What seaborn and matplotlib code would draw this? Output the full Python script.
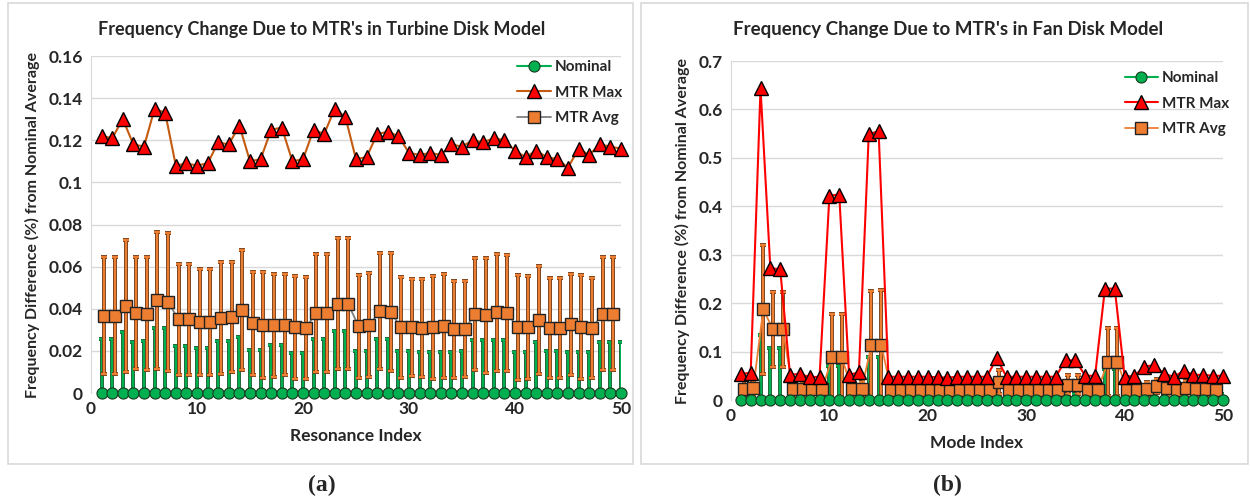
import numpy as np
import matplotlib
matplotlib.use("Agg")
import matplotlib.pyplot as plt
import matplotlib.patches as patches
import matplotlib.transforms as mtransforms
import seaborn as sns

sns.set_style("white")
plt.rcParams['font.family'] = ['Lato', 'DejaVu Sans']
plt.rcParams['font.weight'] = 'bold'

# ---- data ----
idx = list(range(1, 51))
idx_avg = list(range(1, 50))

turbine_nominal = [0.0] * 50
turbine_nominal_err = [0.0256, 0.0256, 0.0290, 0.0244, 0.0248, 0.0307, 0.0307, 0.0225, 0.0222, 0.0212,
                       0.0212, 0.0248, 0.0248, 0.0264, 0.0206, 0.0206, 0.0228, 0.0228, 0.0190, 0.0190,
                       0.0256, 0.0256, 0.0296, 0.0296, 0.0200, 0.0200, 0.0256, 0.0256, 0.0200, 0.0200,
                       0.0197, 0.0197, 0.0197, 0.0197, 0.0200, 0.0251, 0.0251, 0.0251, 0.0251, 0.0193,
                       0.0193, 0.0240, 0.0200, 0.0200, 0.0197, 0.0193, 0.0193, 0.0240, 0.0240, 0.0240]
turbine_max = [0.122, 0.121, 0.130, 0.118, 0.117, 0.135, 0.133, 0.108, 0.109, 0.108,
               0.109, 0.119, 0.118, 0.127, 0.110, 0.111, 0.125, 0.126, 0.110, 0.111,
               0.125, 0.123, 0.135, 0.131, 0.111, 0.112, 0.123, 0.124, 0.122, 0.114,
               0.113, 0.114, 0.113, 0.118, 0.117, 0.120, 0.119, 0.121, 0.120, 0.115,
               0.112, 0.115, 0.112, 0.111, 0.107, 0.116, 0.113, 0.118, 0.117, 0.116]
turbine_avg = [0.0366, 0.0366, 0.0415, 0.0378, 0.0376, 0.0440, 0.0432, 0.0350, 0.0350, 0.0338,
               0.0338, 0.0357, 0.0361, 0.0392, 0.0330, 0.0323, 0.0322, 0.0325, 0.0311, 0.0308,
               0.0382, 0.0380, 0.0424, 0.0424, 0.0316, 0.0322, 0.0390, 0.0385, 0.0311, 0.0311,
               0.0308, 0.0311, 0.0316, 0.0303, 0.0306, 0.0374, 0.0368, 0.0383, 0.0380, 0.0311,
               0.0311, 0.0347, 0.0310, 0.0310, 0.0327, 0.0314, 0.0308, 0.0376, 0.0377]
turbine_avg_err = [0.0278, 0.0278, 0.0313, 0.0266, 0.0268, 0.0324, 0.0328, 0.0263, 0.0263, 0.0253,
                   0.0252, 0.0265, 0.0261, 0.0285, 0.0245, 0.0251, 0.0244, 0.0241, 0.0244, 0.0242,
                   0.0280, 0.0280, 0.0312, 0.0312, 0.0244, 0.0248, 0.0275, 0.0280, 0.0239, 0.0231,
                   0.0232, 0.0244, 0.0247, 0.0231, 0.0228, 0.0267, 0.0273, 0.0277, 0.0277, 0.0247,
                   0.0244, 0.0258, 0.0237, 0.0237, 0.0240, 0.0246, 0.0239, 0.0268, 0.0267]

fan_nominal = [0.0] * 50
fan_nominal_err = [0.012, 0.012, 0.134, 0.107, 0.107, 0.012, 0.012, 0.012, 0.012, 0.070,
                   0.070, 0.012, 0.012, 0.088, 0.088, 0.012, 0.012, 0.012, 0.012, 0.012,
                   0.012, 0.012, 0.012, 0.012, 0.012, 0.012, 0.012, 0.012, 0.012, 0.012,
                   0.012, 0.012, 0.012, 0.012, 0.012, 0.012, 0.012, 0.065, 0.065, 0.012,
                   0.012, 0.012, 0.012, 0.012, 0.012, 0.012, 0.012, 0.012, 0.012, 0.012]
fan_max = [0.054, 0.056, 0.644, 0.272, 0.270, 0.052, 0.054, 0.047, 0.048, 0.422,
           0.424, 0.052, 0.057, 0.549, 0.555, 0.048, 0.048, 0.048, 0.048, 0.048,
           0.047, 0.046, 0.048, 0.048, 0.048, 0.048, 0.086, 0.048, 0.048, 0.048,
           0.048, 0.048, 0.048, 0.082, 0.082, 0.050, 0.050, 0.230, 0.230, 0.048,
           0.050, 0.069, 0.072, 0.054, 0.048, 0.060, 0.052, 0.052, 0.050, 0.050]
fan_avg = [0.023, 0.025, 0.187, 0.146, 0.146, 0.022, 0.022, 0.022, 0.022, 0.088,
           0.088, 0.022, 0.022, 0.114, 0.114, 0.020, 0.020, 0.020, 0.020, 0.020,
           0.020, 0.020, 0.020, 0.020, 0.020, 0.020, 0.037, 0.020, 0.020, 0.020,
           0.020, 0.020, 0.020, 0.032, 0.032, 0.020, 0.020, 0.078, 0.078, 0.020,
           0.020, 0.022, 0.029, 0.024, 0.020, 0.025, 0.022, 0.022, 0.020]
fan_avg_err = [0.018, 0.016, 0.133, 0.078, 0.077, 0.015, 0.015, 0.015, 0.015, 0.089,
               0.090, 0.015, 0.015, 0.112, 0.113, 0.015, 0.015, 0.015, 0.015, 0.015,
               0.015, 0.015, 0.015, 0.015, 0.015, 0.015, 0.024, 0.015, 0.015, 0.015,
               0.015, 0.015, 0.015, 0.020, 0.020, 0.015, 0.015, 0.070, 0.070, 0.015,
               0.015, 0.016, 0.014, 0.015, 0.015, 0.014, 0.015, 0.015, 0.015]

GREEN = '#00B050'
ORANGE = '#ED7D31'
RED = '#FF0000'
GRID = '#D9D9D9'


def draw_panel(ax, nominal, nom_err, mx, avg, avg_err, max_line, avg_line,
               xlabel, ylim, ystep, yfmt, leg_anchor):
    zeros = np.zeros(len(nom_err))
    # the avg series sits a couple of pixels right of the others, as in the original
    shift = mtransforms.offset_copy(ax.transData, fig=ax.figure, x=2.7, y=0, units='dots')

    ax.errorbar(idx, nominal, yerr=[zeros, nom_err], fmt='none', ecolor='#1E5A32',
                elinewidth=2.8, capsize=2.2, capthick=2.8, zorder=2)
    ax.errorbar(idx, nominal, yerr=[zeros, nom_err], fmt='none', ecolor=GREEN,
                elinewidth=1.6, capsize=2, capthick=1.6, zorder=2.1)
    ax.errorbar(idx_avg, avg, yerr=avg_err, fmt='none', ecolor='#6B3A18',
                elinewidth=2.8, capsize=2.2, capthick=2.8, zorder=2.2, transform=shift)
    ax.errorbar(idx_avg, avg, yerr=avg_err, fmt='none', ecolor=ORANGE,
                elinewidth=1.6, capsize=2, capthick=1.6, zorder=2.3, transform=shift)

    sns.lineplot(x=idx_avg, y=avg, ax=ax, color=avg_line, lw=1.3, marker='s', markersize=8,
                 markerfacecolor=ORANGE, markeredgecolor='#222222', markeredgewidth=1.0,
                 label='MTR Avg', zorder=3, transform=shift, clip_on=False)
    sns.lineplot(x=idx, y=nominal, ax=ax, color=GREEN, lw=1.5, marker='o', markersize=8,
                 markerfacecolor=GREEN, markeredgecolor='#1a3a20', markeredgewidth=0.8,
                 label='Nominal', zorder=4, clip_on=False)
    sns.lineplot(x=idx, y=mx, ax=ax, color=max_line, lw=1.5, marker='^', markersize=9.5,
                 markerfacecolor=RED, markeredgecolor='black', markeredgewidth=1.0,
                 label='MTR Max', zorder=5, clip_on=False)

    ax.set_xlim(0, 50)
    ax.set_ylim(*ylim)
    ax.set_xticks([0, 10, 20, 30, 40, 50])
    yt = np.arange(ylim[0], ylim[1] + ystep / 2, ystep)
    ax.set_yticks(yt)
    ax.set_yticklabels([yfmt(v) for v in yt])
    ax.yaxis.grid(True, color=GRID, lw=1.0)
    ax.xaxis.grid(False)
    ax.set_axisbelow(True)
    for s in ['top', 'right', 'bottom']:
        ax.spines[s].set_visible(False)
    ax.spines['left'].set_color(GRID)
    ax.tick_params(axis='both', length=0, labelsize=12.5, pad=6)
    for lab in ax.get_xticklabels() + ax.get_yticklabels():
        lab.set_fontweight('bold')
    ax.set_xlabel(xlabel, fontsize=12.5, fontweight='bold', labelpad=8)
    ax.set_ylabel('Frequency Difference (%) from Nominal Average', fontsize=11.5,
                  fontweight='bold', labelpad=6)

    h, l = ax.get_legend_handles_labels()
    order = [l.index('Nominal'), l.index('MTR Max'), l.index('MTR Avg')]
    ax.legend([h[i] for i in order], [l[i] for i in order], loc='upper right',
              bbox_to_anchor=leg_anchor, borderaxespad=0, frameon=False, handlelength=2.2,
              handletextpad=0.25, labelspacing=0.75, prop={'weight': 'bold', 'size': 11})


def fmt_turb(v):
    return '0' if abs(v) < 1e-9 else ('%.2f' % v).rstrip('0')


def fmt_fan(v):
    return '0' if abs(v) < 1e-9 else ('%.1f' % v)


fig = plt.figure(figsize=(12.5, 4.98), dpi=100)

# panel borders
for x0, w in [(8, 625), (641, 607)]:
    fig.patches.append(patches.Rectangle((x0 / 1250, 1 - 464 / 498), w / 1250, 461 / 498,
                                         transform=fig.transFigure, fill=False,
                                         edgecolor=GRID, lw=1.2))

ax1 = fig.add_axes([91 / 1250, 1 - 393 / 498, 530 / 1250, 337 / 498])
ax2 = fig.add_axes([731 / 1250, 1 - 400 / 498, 492 / 1250, 339 / 498])

draw_panel(ax1, turbine_nominal, turbine_nominal_err, turbine_max, turbine_avg, turbine_avg_err,
           '#C55A11', '#7F7F7F', 'Resonance Index', (0, 0.16), 0.02, fmt_turb, (1.013, 1.006))
draw_panel(ax2, fan_nominal, fan_nominal_err, fan_max, fan_avg, fan_avg_err,
           RED, ORANGE, 'Mode Index', (0, 0.7), 0.1, fmt_fan, (1.025, 0.988))

# chart titles are centred on each chart box
fig.text(322 / 1250, 1 - 29 / 498, "Frequency Change Due to MTR's in Turbine Disk Model",
         ha='center', va='center', fontsize=13, fontweight='bold')
fig.text(948 / 1250, 1 - 29 / 498, "Frequency Change Due to MTR's in Fan Disk Model",
         ha='center', va='center', fontsize=13.5, fontweight='bold')

fig.text(322 / 1250, 1 - 485 / 498, '(a)', ha='center', va='center', fontsize=17,
         fontweight='bold', family='Liberation Serif')
fig.text(947 / 1250, 1 - 485 / 498, '(b)', ha='center', va='center', fontsize=17,
         fontweight='bold', family='Liberation Serif')

fig.savefig('out.png', dpi=100)
